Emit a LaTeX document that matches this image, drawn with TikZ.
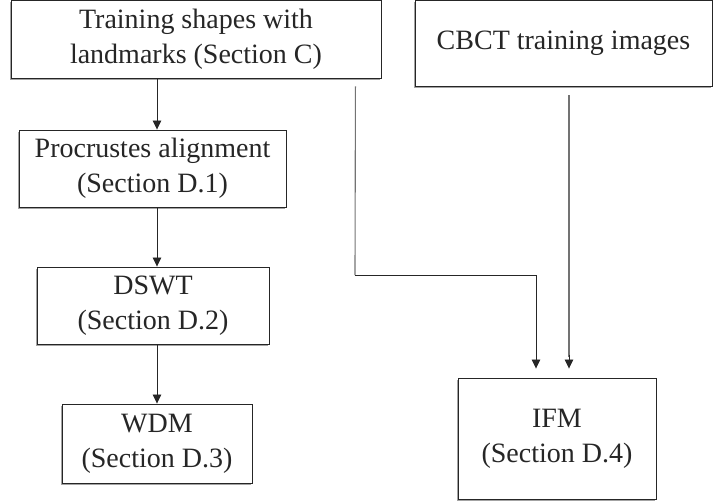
\documentclass[tikz,border=0pt]{standalone}
\usepackage{fontspec}
\setmainfont{Liberation Serif}
\usetikzlibrary{arrows.meta,shadows}
\begin{document}
\begin{tikzpicture}[x=1pt,y=-1pt,
  blockbox/.style={draw=black!85, line width=0.9pt, fill=white, align=center,
    inner sep=0pt, text=black!85,
    font=\fontsize{28}{35}\selectfont,
    drop shadow={shadow xshift=-0.8pt, shadow yshift=-1.6pt, fill=black!45, opacity=0.8}},
  flow/.style={draw=black!85, line width=0.8pt,
    -{Triangle[length=9pt,width=8.5pt]}},
  graylink/.style={draw=black!55, line width=1.1pt}]
\useasboundingbox (0,0) rectangle (713,501);

% blocks (centre, width, height)
\node[blockbox, minimum width=370pt, minimum height=78pt] (train) at (196,39)
  {Training shapes with\\landmarks (Section C)};
\node[blockbox, minimum width=297pt, minimum height=86pt] (cbct) at (563.5,43)
  {CBCT training images};
\node[blockbox, minimum width=267pt, minimum height=77pt] (proc) at (152.5,168.5)
  {Procrustes alignment\\(Section D.1)};
\node[blockbox, minimum width=232pt, minimum height=77pt] (dswt) at (153,305.5)
  {DSWT\\(Section D.2)};
\node[blockbox, minimum width=190pt, minimum height=79pt] (wdm) at (157,443.5)
  {WDM\\(Section D.3)};
\node[blockbox, minimum width=198pt, minimum height=121pt] (ifm) at (557,438.5)
  {IFM\\(Section D.4)};

% left column of arrows
\coordinate (col) at (157,0);
\draw[flow] (train.south -| col) -- (proc.north -| col);
\draw[flow] (proc.south -| col) -- (dswt.north -| col);
\draw[flow] (dswt.south -| col) -- (wdm.north -| col);

% shapes feed the IFM block
\coordinate (shapesout) at ([xshift=-26pt,yshift=-8pt]train.south east);
\coordinate (elbow) at (355,275);
\coordinate (ifmin1) at ([xshift=-21pt,yshift=9pt]ifm.north);
\draw[graylink] (shapesout) -- (elbow);
\draw[flow] (elbow) -| (ifmin1);

% images feed the IFM block
\coordinate (imgout) at ([xshift=5.5pt,yshift=-9pt]cbct.south);
\coordinate (ifmin2) at ([xshift=12pt,yshift=9pt]ifm.north);
\draw[graylink] (imgout) -- ([yshift=12pt]ifmin2);
\draw[flow] ([yshift=14pt]ifmin2) -- (ifmin2);
\end{tikzpicture}
\end{document}
